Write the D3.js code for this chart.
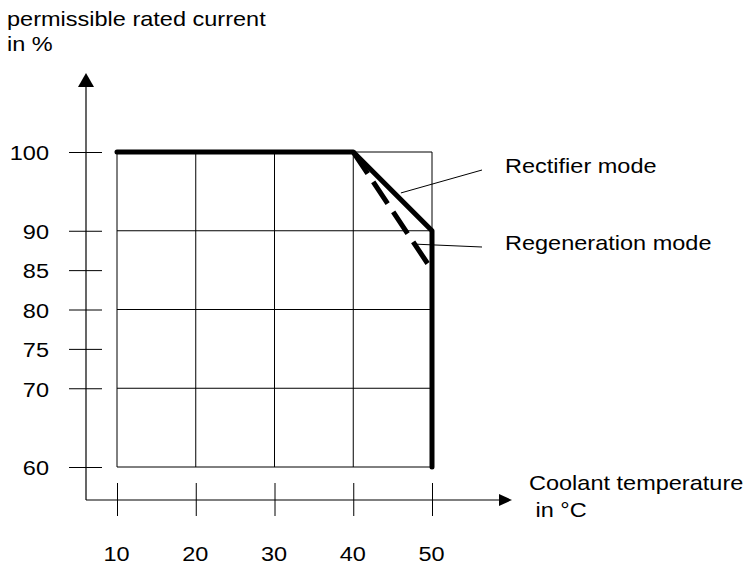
<!DOCTYPE html>
<html>
<head>
<meta charset="utf-8">
<script src="https://cdn.jsdelivr.net/npm/d3@7"></script>
<style>
  body { margin: 0; background: #fff; }
  text { font-family: "Liberation Sans", Arial, sans-serif; font-size: 21px; fill: #000; }
</style>
</head>
<body>
<svg id="chart" width="745" height="568"></svg>
<script>
// Derating of permissible rated current against coolant temperature
const temperatures = [10, 20, 30, 40, 50];
const gridCurrents = [60, 70, 80, 90, 100];
const currentTicks = [60, 70, 75, 80, 85, 90, 100];
const rectifierTemps = [10, 40, 50, 50];
const rectifierCurrents = [100, 100, 90, 60];
const regenerationTemps = [40, 50];
const regenerationCurrents = [100, 85];
const seriesNames = ["Rectifier mode", "Regeneration mode"];
const yTitleLines = ["permissible rated current", "in %"];
const xTitleLines = ["Coolant temperature", " in \u00b0C"];

const svg = d3.select("#chart");
const SX = 1.12; // glyphs are drawn slightly wide

const x = d3.scaleLinear().domain([10, 50]).range([117, 432]);
const y = d3.scaleLinear().domain([60, 100]).range([467, 152]);

// helper for horizontally widened text anchored at (px, py)
function wideText(px, py, str, anchor) {
  return svg.append("text")
    .attr("transform", `translate(${px},${py}) scale(${SX},1)`)
    .attr("text-anchor", anchor || "start")
    .attr("xml:space", "preserve")
    .style("white-space", "pre")
    .text(str);
}

// grid
const grid = svg.append("g").attr("stroke", "#000").attr("stroke-width", 1);
grid.selectAll("line.h").data(gridCurrents).join("line")
  .attr("class", "h")
  .attr("x1", x(10)).attr("x2", x(50))
  .attr("y1", d => y(d)).attr("y2", d => y(d));
grid.selectAll("line.v").data(temperatures).join("line")
  .attr("class", "v")
  .attr("x1", d => x(d)).attr("x2", d => x(d))
  .attr("y1", y(100)).attr("y2", y(60));

// axis lines with arrowheads
const axisX = 86, axisY = 500;
svg.append("line").attr("x1", axisX).attr("x2", axisX).attr("y1", axisY).attr("y2", 84)
  .attr("stroke", "#000").attr("stroke-width", 1.2);
svg.append("path").attr("d", `M${axisX},73 L${axisX - 8},87 L${axisX + 8},87 Z`).attr("fill", "#000");
svg.append("line").attr("x1", axisX).attr("x2", 502).attr("y1", axisY).attr("y2", axisY)
  .attr("stroke", "#000").attr("stroke-width", 1.2);
svg.append("path").attr("d", `M512,${axisY} L499,${axisY - 6} L499,${axisY + 6} Z`).attr("fill", "#000");

// y ticks and labels
const gY = svg.append("g").attr("transform", "translate(102,0)")
  .call(d3.axisLeft(y).tickValues(currentTicks).tickSize(33).tickPadding(20));
gY.select(".domain").remove();
gY.selectAll(".tick line").attr("stroke", "#000").attr("stroke-width", 1);
gY.selectAll(".tick text")
  .attr("font-family", null).attr("font-size", null)
  .attr("x", -53 / SX).attr("dy", "0.37em")
  .attr("transform", `scale(${SX},1)`);

// x ticks and labels
const gX = svg.append("g").attr("transform", "translate(0,483)")
  .call(d3.axisBottom(x).tickValues(temperatures).tickSize(33).tickPadding(30));
gX.select(".domain").remove();
gX.selectAll(".tick line").attr("stroke", "#000").attr("stroke-width", 1);
gX.selectAll(".tick text")
  .attr("font-family", null).attr("font-size", null)
  .attr("transform", `translate(-1,0) scale(${SX},1)`);

// series
const line = d3.line().x(d => x(d[0])).y(d => y(d[1]));
const regen = d3.zip(regenerationTemps, regenerationCurrents);
const rect = d3.zip(rectifierTemps, rectifierCurrents);

svg.append("path").datum(regen).attr("d", line)
  .attr("fill", "none").attr("stroke", "#000").attr("stroke-width", 5)
  .attr("stroke-dasharray", "26,10");
svg.append("path").datum(rect).attr("d", line)
  .attr("fill", "none").attr("stroke", "#000").attr("stroke-width", 5)
  .attr("stroke-linecap", "round").attr("stroke-linejoin", "round");

// leader lines to the series names
const labelX = 505;
const leaders = [
  { from: [x(46.05), y(94.8)], to: [482, 170], text: [labelX, 173] },
  { from: [x(47.85), y(88.3)], to: [482, 247], text: [labelX, 250] }
];
leaders.forEach((l, i) => {
  svg.append("line")
    .attr("x1", l.from[0]).attr("y1", l.from[1])
    .attr("x2", l.to[0]).attr("y2", l.to[1])
    .attr("stroke", "#000").attr("stroke-width", 1);
  wideText(l.text[0], l.text[1], seriesNames[i]);
});

// axis titles
wideText(7, 26, yTitleLines[0]);
wideText(7, 51, yTitleLines[1]);
wideText(529, 490, xTitleLines[0]);
wideText(529, 517, xTitleLines[1]);
</script>
</body>
</html>
